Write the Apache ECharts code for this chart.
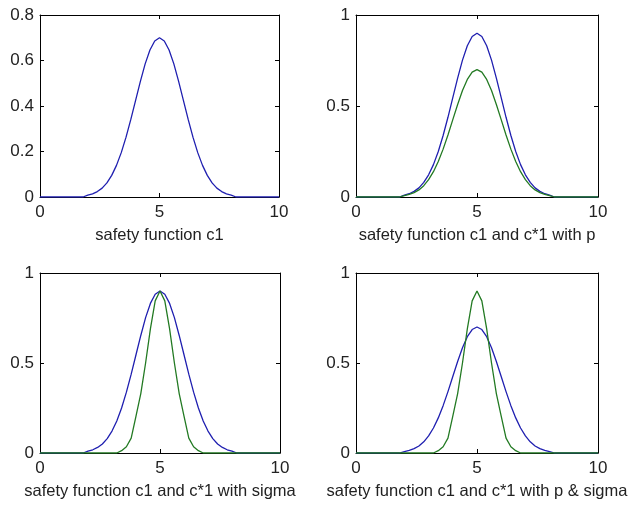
<!DOCTYPE html>
<html>
<head>
<meta charset="utf-8">
<script src="https://cdn.jsdelivr.net/npm/echarts@6/dist/echarts.min.js"></script>
<style>
  html, body { margin: 0; padding: 0; background: #fff; }
  #chart { width: 630px; height: 505px; }
</style>
</head>
<body>
<div id="chart"></div>
<script>
// x samples, step 0.2 from 0 to 10
const xValues = [
  0, 0.2, 0.4, 0.6, 0.8, 1, 1.2, 1.4, 1.6, 1.8,
  2, 2.2, 2.4, 2.6, 2.8, 3, 3.2, 3.4, 3.6, 3.8,
  4, 4.2, 4.4, 4.6, 4.8, 5, 5.2, 5.4, 5.6, 5.8,
  6, 6.2, 6.4, 6.6, 6.8, 7, 7.2, 7.4, 7.6, 7.8,
  8, 8.2, 8.4, 8.6, 8.8, 9, 9.2, 9.4, 9.6, 9.8, 10
];

// c1 : peak 0.7, wide
const c1 = [
  0, 0, 0, 0, 0, 0, 0, 0, 0, 0,
  0.008, 0.014, 0.024, 0.039, 0.062, 0.095, 0.139, 0.195, 0.263, 0.341,
  0.425, 0.508, 0.585, 0.646, 0.686, 0.700, 0.686, 0.646, 0.585, 0.508,
  0.425, 0.341, 0.263, 0.195, 0.139, 0.095, 0.062, 0.039, 0.024, 0.014,
  0.008, 0, 0, 0, 0, 0, 0, 0, 0, 0, 0
];

// c1 with p : peak 0.9, wide
const c1p = [
  0, 0, 0, 0, 0, 0, 0, 0, 0, 0,
  0.010, 0.018, 0.031, 0.050, 0.080, 0.122, 0.178, 0.250, 0.338, 0.438,
  0.546, 0.653, 0.752, 0.831, 0.882, 0.900, 0.882, 0.831, 0.752, 0.653,
  0.546, 0.438, 0.338, 0.250, 0.178, 0.122, 0.080, 0.050, 0.031, 0.018,
  0.010, 0, 0, 0, 0, 0, 0, 0, 0, 0, 0
];

// c*1 with sigma : peak 0.9, narrow
const cSigma = [
  0, 0, 0, 0, 0, 0, 0, 0, 0, 0,
  0, 0, 0, 0, 0, 0, 0, 0.013, 0.035, 0.083,
  0.205, 0.330, 0.500, 0.690, 0.845, 0.900, 0.845, 0.690, 0.500, 0.330,
  0.205, 0.083, 0.035, 0.013, 0, 0, 0, 0, 0, 0,
  0, 0, 0, 0, 0, 0, 0, 0, 0, 0, 0
];

const xTitles = [
  "safety function c1",
  "safety function c1 and c*1 with p",
  "safety function c1 and c*1 with sigma",
  "safety function c1 and c*1 with p & sigma"
];

const yMax = [0.8, 1, 1, 1];
const yStep = [0.2, 0.5, 0.5, 0.5];

// blue first, green on top
const panels = [
  [c1],
  [c1p, c1],
  [c1p, cSigma],
  [c1, cSigma]
];

const BLUE = "#1f1fb0";
const GREEN = "#237a23";
const TXT = "#222";
const FONT = "Liberation Sans, Arial, sans-serif";

const grids = [
  { left: 40, top: 15, width: 239, height: 182 },
  { left: 356, top: 15, width: 242, height: 182 },
  { left: 40, top: 273, width: 240, height: 180 },
  { left: 356, top: 273, width: 242, height: 180 }
];

const xAxes = [];
const yAxes = [];
const series = [];

grids.forEach((g, i) => {
  // onZero off, otherwise the top / right axes collapse onto the zero lines
  const line = { show: true, onZero: false, lineStyle: { color: "#000", width: 1 } };
  const tick = { show: true, inside: true, length: 4, lineStyle: { color: "#000" } };
  xAxes.push({
    gridIndex: i, type: "value", min: 0, max: 10, interval: 5, position: "bottom",
    axisLine: line, axisTick: tick, splitLine: { show: false },
    axisLabel: { color: TXT, fontSize: 17, fontFamily: FONT, margin: 7 },
    name: xTitles[i], nameLocation: "middle", nameGap: 30,
    nameTextStyle: { color: TXT, fontSize: 16.5, fontFamily: FONT }
  });
  xAxes.push({
    gridIndex: i, type: "value", min: 0, max: 10, interval: 5, position: "top",
    axisLine: line, axisTick: tick, splitLine: { show: false },
    axisLabel: { show: false }
  });
  yAxes.push({
    gridIndex: i, type: "value", min: 0, max: yMax[i], interval: yStep[i], position: "left",
    axisLine: line, axisTick: tick, splitLine: { show: false },
    axisLabel: { color: TXT, fontSize: 17, fontFamily: FONT, margin: 6 }
  });
  yAxes.push({
    gridIndex: i, type: "value", min: 0, max: yMax[i], interval: yStep[i], position: "right",
    axisLine: line, axisTick: tick, splitLine: { show: false },
    axisLabel: { show: false }
  });

  panels[i].forEach((vals, k) => {
    series.push({
      type: "line",
      xAxisIndex: i * 2,
      yAxisIndex: i * 2,
      data: xValues.map((x, j) => [x, vals[j]]),
      showSymbol: false,
      symbol: "none",
      lineStyle: { color: k === 0 ? BLUE : GREEN, width: 1.3 },
      animation: false
    });
  });
});

const chart = echarts.init(document.getElementById("chart"));
chart.setOption({
  backgroundColor: "#fff",
  animation: false,
  grid: grids,
  xAxis: xAxes,
  yAxis: yAxes,
  series: series
});
</script>
</body>
</html>
